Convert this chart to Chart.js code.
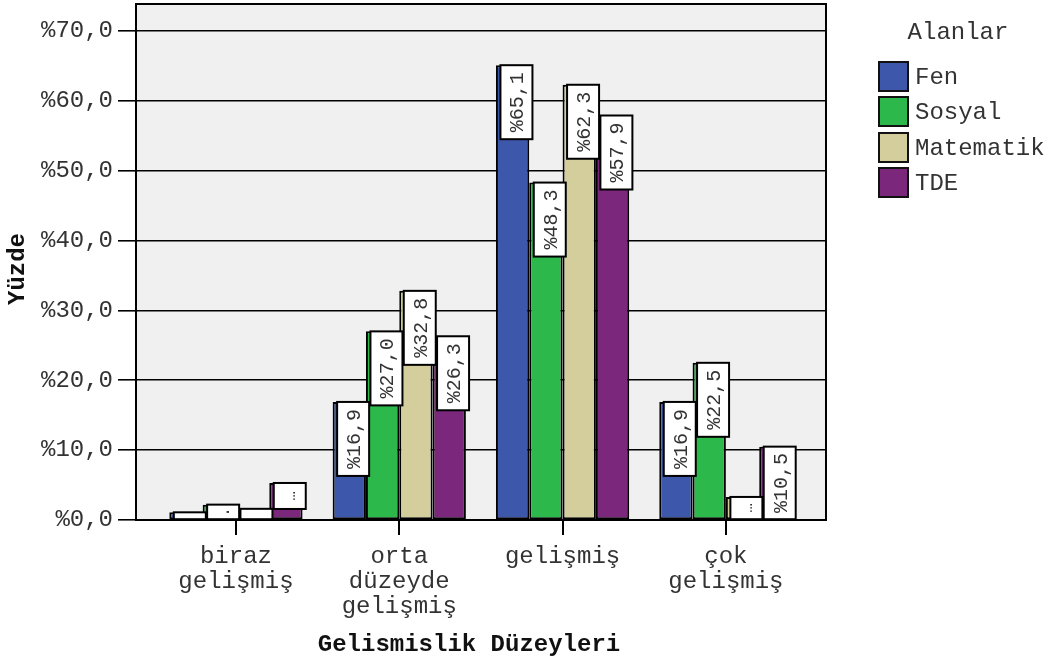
<!DOCTYPE html>
<html>
<head>
<meta charset="utf-8">
<script src="https://cdn.jsdelivr.net/npm/chart.js@4/dist/chart.umd.min.js"></script>
<style>
html,body{margin:0;padding:0;background:#fff;}
#wrap{width:1050px;height:662px;}
</style>
</head>
<body>
<div id="wrap"><canvas id="c" width="1050" height="662"></canvas></div>
<script>
const categories = ["biraz gelişmiş", "orta düzeyde gelişmiş", "gelişmiş", "çok gelişmiş"];
const seriesNames = ["Fen", "Sosyal", "Matematik", "TDE"];
const fenValues = [1.1, 16.9, 65.1, 16.9];
const sosyalValues = [2.2, 27.0, 48.3, 22.5];
const matematikValues = [1.6, 32.8, 62.3, 3.3];
const tdeValues = [5.3, 26.3, 57.9, 10.5];
const yTickValues = [0, 10, 20, 30, 40, 50, 60, 70];
const xTitle = "Gelismislik Düzeyleri";
const yTitle = "Yüzde";
const legendTitle = "Alanlar";

const colors = ["#3d58ab", "#2db84b", "#d3ce9b", "#7b277c"];
const FONT = "'Liberation Mono', 'DejaVu Sans Mono', monospace";
const seriesValues = [fenValues, sosyalValues, matematikValues, tdeValues];

function fmtPct(v) { return "%" + v.toFixed(1).replace(".", ","); }

const datasets = seriesNames.map((name, s) => ({
  label: name,
  data: seriesValues[s].map((v, i) => ({ x: i, y: v })),
  backgroundColor: colors[s],
  borderColor: "#000",
  borderWidth: 2,
  borderSkipped: false,
  categoryPercentage: 0.816,
  barPercentage: 1.0
}));

const decorPlugin = {
  id: "decor",
  beforeDraw(chart) {
    const { ctx, chartArea: a } = chart;
    ctx.save();
    ctx.fillStyle = "#f0f0f0";
    ctx.fillRect(a.left, a.top, a.right - a.left, a.bottom - a.top);
    ctx.restore();
  },
  afterDatasetsDraw(chart) {
    const { ctx } = chart;
    chart.data.datasets.forEach((ds, s) => {
      const meta = chart.getDatasetMeta(s);
      meta.data.forEach((bar, i) => {
        const v = seriesValues[s][i];
        const p = bar.getProps(["x", "y", "base", "width"], true);
        const h = p.base - p.y;
        const boxW = 32;
        const left = p.x - p.width / 2 + 4.5;
        let boxH, text, fsize;
        if (h >= 60) { boxH = Math.min(74, h); text = fmtPct(v); fsize = 20; }
        else {
          boxH = Math.min(h, 26);
          text = boxH >= 20 ? "…" : (boxH >= 12 ? "." : "");
          fsize = 16;
        }
        ctx.save();
        ctx.fillStyle = "#fff";
        ctx.fillRect(left, p.y, boxW, boxH);
        ctx.strokeStyle = "#000";
        ctx.lineWidth = 2;
        ctx.strokeRect(left, p.y, boxW, boxH);
        if (text) {
          ctx.translate(left + boxW / 2 + 1.5, p.y + boxH / 2);
          ctx.rotate(-Math.PI / 2);
          ctx.fillStyle = "#333";
          ctx.font = fsize + "px " + FONT;
          ctx.textAlign = "center";
          ctx.textBaseline = "middle";
          ctx.fillText(text, 0, 0);
        }
        ctx.restore();
      });
    });
  },
  afterDraw(chart) {
    const { ctx, chartArea: a } = chart;
    ctx.save();
    ctx.strokeStyle = "#000";
    ctx.lineWidth = 2;
    ctx.strokeRect(a.left, a.top, a.right - a.left, a.bottom - a.top);
    ctx.fillStyle = "#111";
    ctx.font = "bold 24px " + FONT;
    ctx.textAlign = "center";
    ctx.textBaseline = "middle";
    ctx.fillText(xTitle, 469, 645);
    ctx.save();
    ctx.translate(18, 269);
    ctx.rotate(-Math.PI / 2);
    ctx.fillText(yTitle, 0, 0);
    ctx.restore();
    ctx.font = "24px " + FONT;
    ctx.fillStyle = "#333";
    ctx.fillText(legendTitle, 958, 33);
    const tops = [62, 97, 133, 168];
    seriesNames.forEach((n, s) => {
      ctx.fillStyle = colors[s];
      ctx.fillRect(879, tops[s], 29, 29);
      ctx.strokeStyle = "#111";
      ctx.lineWidth = 2;
      ctx.strokeRect(879, tops[s], 29, 29);
      ctx.fillStyle = "#333";
      ctx.textAlign = "left";
      ctx.fillText(n, 915, tops[s] + 16);
    });
    ctx.restore();
  }
};

new Chart(document.getElementById("c"), {
  type: "bar",
  data: { datasets },
  options: {
    responsive: false,
    animation: false,
    devicePixelRatio: 1,
    layout: { padding: { top: 4, right: 224, left: 0, bottom: 0 } },
    plugins: { legend: { display: false }, tooltip: { enabled: false } },
    scales: {
      x: {
        type: "linear",
        min: -0.612,
        max: 3.613,
        offset: false,
        afterBuildTicks(scale) { scale.ticks = categories.map((c, i) => ({ value: i })); },
        afterFit(scale) { scale.height = 142; scale.paddingLeft = 0; scale.paddingRight = 0; },
        ticks: {
          autoSkip: false,
          maxRotation: 0,
          padding: 9,
          color: "#333",
          font: { family: FONT, size: 24, lineHeight: 1.04 },
          callback: (v) => categories[v] ? categories[v].split(" ") : ""
        },
        grid: { offset: false, drawOnChartArea: false, drawTicks: true, tickLength: 15, color: "#000", lineWidth: 2 },
        border: { display: true, color: "#000", width: 2 }
      },
      y: {
        min: 0,
        max: 73.86,
        afterBuildTicks(scale) { scale.ticks = yTickValues.map(v => ({ value: v })); },
        afterFit(scale) { scale.width = 136; scale.paddingTop = 0; scale.paddingBottom = 0; },
        ticks: {
          padding: 5,
          color: "#333",
          font: { family: FONT, size: 24 },
          callback: (v) => "%" + v + ",0"
        },
        grid: { color: "#000", lineWidth: 1.6, tickLength: 18, drawTicks: true },
        border: { display: true, color: "#000", width: 2 }
      }
    }
  },
  plugins: [decorPlugin]
});
</script>
</body>
</html>
